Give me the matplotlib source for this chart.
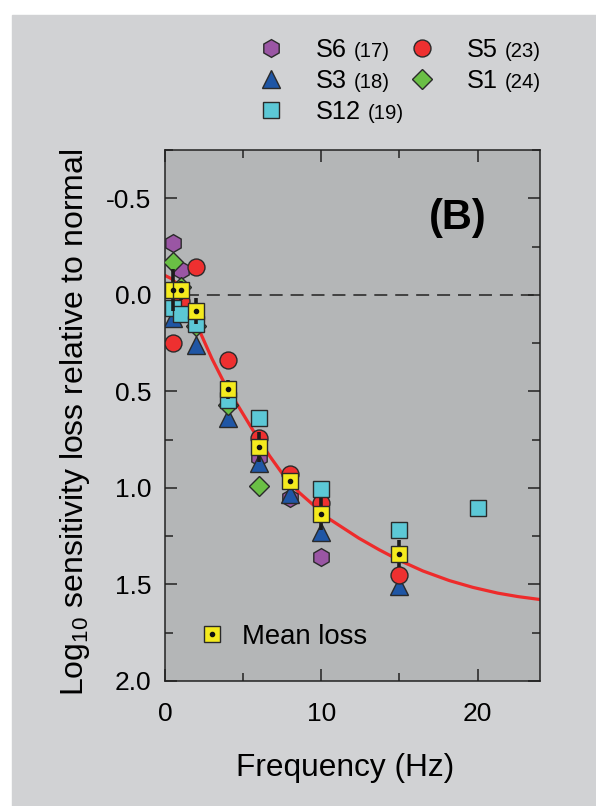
import matplotlib
matplotlib.use('Agg')
import matplotlib.pyplot as plt
import numpy as np
from matplotlib.lines import Line2D
from matplotlib.patches import Rectangle
from matplotlib.ticker import MultipleLocator

plt.rcParams['font.family'] = ['Liberation Sans', 'DejaVu Sans']
plt.rcParams['mathtext.fontset'] = 'custom'
plt.rcParams['mathtext.rm'] = 'Liberation Sans'
plt.rcParams['axes.unicode_minus'] = False

nan = np.nan
freqs = [0.5, 1, 2, 4, 6, 8, 10, 15, 20]
s6 = [-0.27, -0.13, nan, nan, 0.84, 1.05, 1.36, nan, nan]
s3 = [0.12, nan, 0.26, 0.64, 0.87, 1.03, 1.23, 1.51, nan]
s5 = [0.25, 0.03, -0.145, 0.335, 0.74, 0.93, 1.08, 1.45, nan]
s1 = [-0.17, -0.04, 0.16, 0.57, 0.99, nan, nan, nan, nan]
s12 = [0.07, 0.10, 0.15, 0.545, 0.64, nan, 1.005, 1.22, 1.105]

mean_freqs = [0.5, 1, 2, 4, 6, 8, 10, 15]
mean_loss = [-0.026, -0.024, 0.085, 0.49, 0.79, 0.965, 1.135, 1.34]
mean_err = [0.11, 0.05, 0.067, 0.047, 0.078, 0.035, 0.085, 0.072]

# fitted curve
fit_freqs = [0, 0.4, 1.0, 1.6, 2.23, 3.0, 3.69, 4.59, 5.54, 6.7, 7.5, 8.6,
             10.5, 12.4, 13.7, 15.0, 16.5, 18.2, 19.7, 21.3, 22.6, 24]
fit_loss = [-0.1, -0.084, -0.04, 0.06, 0.19, 0.33, 0.44, 0.563, 0.69, 0.835,
            0.925, 1.025, 1.16, 1.26, 1.32, 1.375, 1.43, 1.48, 1.515, 1.545,
            1.563, 1.578]

# name, n, values, marker, size, colour, zorder
subjects = [
    ("S6", "17", s6, 'h', 12.8, '#9a56a4', 3.0),
    ("S3", "18", s3, '^', 13, '#1f56a5', 3.1),
    ("S12", "19", s12, 's', 11.3, '#5cc8d6', 3.4),
    ("S5", "23", s5, 'o', 12.2, '#ee3030', 3.2),
    ("S1", "24", s1, 'D', 10.6, '#6abf45', 3.3),
]
edge = '#2a2a2a'

fig = plt.figure(figsize=(5.96, 8.06), dpi=100, facecolor='white')
fig.add_artist(Rectangle((12 / 596, 0), 1, (806 - 15) / 806,
                         transform=fig.transFigure, color='#d1d2d4', zorder=-10))
ax = fig.add_axes([165 / 596, (806 - 681) / 806, 375 / 596, 531 / 806])
ax.set_facecolor('#b4b6b7')

ax.plot(fit_freqs, fit_loss, color='#ee2b2b', lw=2.3, zorder=2)
ax.axhline(0, color='#222222', lw=1.1, dashes=(8.5, 5.2), zorder=1.5)

handles = []
for name, n, vals, mk, ms, col, z in subjects:
    ax.plot(freqs, vals, ls='none', marker=mk, ms=ms, mfc=col, mec=edge,
            mew=1.0, zorder=z)
    handles.append(Line2D([], [], ls='none', marker=mk, ms=ms, mfc=col,
                          mec=edge, mew=1.0))

ax.errorbar(mean_freqs, mean_loss, yerr=mean_err, fmt='none',
            ecolor='#1c1c1c', elinewidth=2.6, capsize=0, zorder=5)
ax.plot(mean_freqs, mean_loss, ls='none', marker='s', ms=12,
        mfc='#f4ea1e', mec=edge, mew=1.0, zorder=6)
ax.plot(mean_freqs, mean_loss, ls='none', marker='o', ms=3, color='#111111',
        zorder=7)

ax.set_xlim(0, 24)
ax.set_ylim(2.0, -0.75)
ax.xaxis.set_major_locator(MultipleLocator(10))
ax.xaxis.set_minor_locator(MultipleLocator(5))
ax.yaxis.set_major_locator(MultipleLocator(0.5))
ax.yaxis.set_minor_locator(MultipleLocator(0.25))
ax.tick_params(which='both', direction='in', top=True, right=True,
               width=1.1, color='#222222')
ax.tick_params(which='major', length=8.5, labelsize=19)
ax.tick_params(which='minor', length=5.5)
ax.tick_params(axis='y', which='major', pad=10)
ax.tick_params(axis='x', which='major', pad=15)
for sp in ax.spines.values():
    sp.set_linewidth(1.1)
    sp.set_color('#222222')

ax.set_xlabel('Frequency (Hz)', fontsize=22.8)
ax.xaxis.set_label_coords(0.48, -0.135)
ax.set_ylabel(r'Log$_{\mathregular{10}}$ sensitivity loss relative to normal',
              fontsize=23)
ax.yaxis.set_label_coords(-0.195, 0.487)

ax.text(0.78, 0.872, '(B)', transform=ax.transAxes, fontsize=30,
        fontweight='bold', ha='center', va='center')

mean_sq = Line2D([], [], ls='none', marker='s', ms=12, mfc='#f4ea1e',
                 mec=edge, mew=1.0)
mean_dot = Line2D([], [], ls='none', marker='o', ms=3, color='#111111')
ax.legend([(mean_sq, mean_dot)], ['Mean loss'], loc='center left',
          bbox_to_anchor=(0.089, 0.083), fontsize=19.8, frameon=False,
          handlelength=1.0, handletextpad=0.6, borderpad=0, borderaxespad=0)

leg = fig.legend(handles, [s[0] for s in subjects], loc='center left',
                 bbox_to_anchor=(245.6 / 596, (806 - 81) / 806), ncol=2,
                 fontsize=18.3, frameon=False, handlelength=2.0,
                 handletextpad=0.75, columnspacing=1.42, labelspacing=0.28,
                 borderpad=0, borderaxespad=0)

# append the smaller "(n)" after each legend label
fig.canvas.draw()
renderer = fig.canvas.get_renderer()
W, H = fig.bbox.width, fig.bbox.height
for txt, s in zip(leg.get_texts(), subjects):
    bb = txt.get_window_extent(renderer)
    _, _, d = renderer.get_text_width_height_descent(
        'lp', txt.get_fontproperties(), ismath=False)
    fig.text((bb.x1 + 7) / W, (bb.y0 + d) / H, '(%s)' % s[1], fontsize=14.6,
             ha='left', va='baseline')

fig.savefig('out.png', dpi=100)
